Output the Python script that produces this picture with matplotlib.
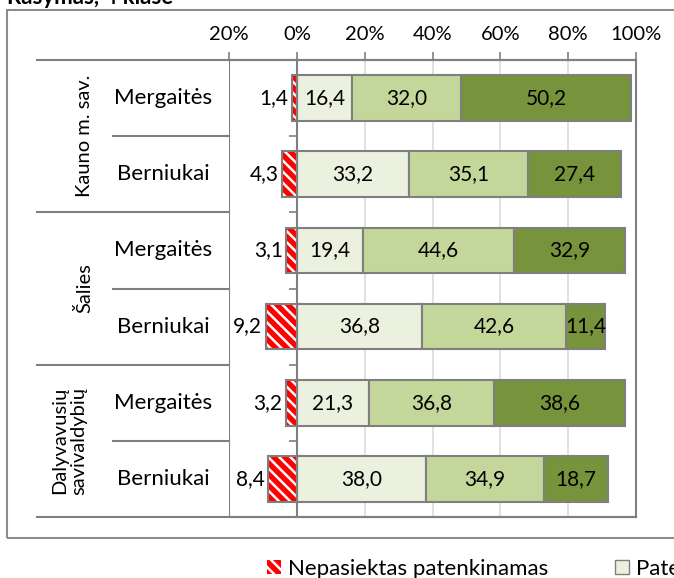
import numpy as np
import matplotlib as mpl
import matplotlib.pyplot as plt
from matplotlib.patches import Rectangle, Patch
from matplotlib.ticker import FuncFormatter

mpl.rcParams['font.family'] = ['Lato', 'DejaVu Sans']
mpl.rcParams['hatch.linewidth'] = 1.8

## data (percent), rows from top to bottom
groups = ['Kauno m. sav.', 'Šalies', 'Dalyvavusių\nsavivaldybių']
rows = ['Mergaitės', 'Berniukai'] * 3
nepasiektas = [1.4, 4.3, 3.1, 9.2, 3.2, 8.4]
patenkinamas = [16.4, 33.2, 19.4, 36.8, 21.3, 38.0]
pagrindinis = [32.0, 35.1, 44.6, 42.6, 36.8, 34.9]
aukstesnysis = [50.2, 27.4, 32.9, 11.4, 38.6, 18.7]
series_names = ['Nepasiektas patenkinamas', 'Patenkinamas', 'Pagrindinis', 'Aukštesnysis']

colors = ['#FF0000', '#EBF1DE', '#C4D79B', '#77933C']
edge = '#7F7F7F'
fs_val = 15
fs_cat = 16
fs_grp = 14.5
fs_tick = 14.5


def fmt(v):
    return ('%.1f' % v).replace('.', ',')


def plot_levels():
    fig = plt.figure(figsize=(6.74, 5.78), dpi=100)
    W, H = 674, 578
    ax = fig.add_axes([229 / W, 1 - 517 / H, 407 / W, 457 / H])

    y = np.arange(len(rows))
    h = 0.6
    neg = -np.array(nepasiektas)

    # hatched red part (hatch in white, then grey outline on top)
    ax.barh(y, neg, height=h, color=colors[0], edgecolor='white', linewidth=0, hatch='\\\\\\', zorder=3)
    ax.barh(y, neg, height=h, fill=False, edgecolor=edge, linewidth=1.5, zorder=4)
    for yi, v in zip(y, neg):
        ax.text(v - 1.0, yi, fmt(-v), ha='right', va='center', fontsize=fs_val, zorder=5)

    left = np.zeros(len(rows))
    for vals, c in zip([patenkinamas, pagrindinis, aukstesnysis], colors[1:]):
        vals = np.array(vals)
        ax.barh(y, vals, left=left, height=h, color=c, edgecolor=edge, linewidth=1.5, zorder=3)
        for yi, l, v in zip(y, left, vals):
            ax.text(l + v / 2, yi, fmt(v), ha='center', va='center', fontsize=fs_val, zorder=5)
        left += vals

    ax.set_xlim(-20, 100)
    ax.set_ylim(len(rows) - 0.5, -0.5)
    ax.set_xticks(np.arange(-20, 101, 20))
    ax.xaxis.set_major_formatter(FuncFormatter(lambda v, p: '%d%%' % abs(v)))
    ax.xaxis.tick_top()
    ax.tick_params(axis='x', direction='out', length=6, width=1.2, color=edge, labelsize=fs_tick, pad=6)
    ax.grid(axis='x', color='#DCDCDC', linewidth=1.2, zorder=0)
    ax.set_axisbelow(True)

    # category axis sits at 0
    ax.spines['left'].set_position(('data', 0))
    ax.set_yticks(np.arange(len(rows) + 1) - 0.5)
    ax.set_yticklabels([])
    ax.tick_params(axis='y', direction='out', length=6, width=1.2, color=edge)
    for s in ['left', 'right', 'top', 'bottom']:
        ax.spines[s].set_color(edge)
        ax.spines[s].set_linewidth(1.5)
    ax.spines['left'].set_zorder(4)
    ax.axvline(-20, color=edge, linewidth=1.5, zorder=4)

    # label table on the left
    tr = ax.get_yaxis_transform()
    x_outer = (37 - 229) / 407
    x_inner = (113 - 229) / 407
    ax.plot([x_outer, 1], [-0.5, -0.5], transform=tr, color=edge, lw=1.5, clip_on=False)
    ax.plot([x_outer, 1], [5.5, 5.5], transform=tr, color=edge, lw=1.5, clip_on=False)
    for b in [1.5, 3.5]:
        ax.plot([x_outer, 0], [b, b], transform=tr, color=edge, lw=1.5, clip_on=False)
    for b in [0.5, 2.5, 4.5]:
        ax.plot([x_inner, 0], [b, b], transform=tr, color=edge, lw=1.5, clip_on=False)
    for yi, r in zip(y, rows):
        ax.text((163 - 229) / 407, yi, r, transform=tr, ha='center', va='center', fontsize=fs_cat)
    for i, g in enumerate(groups):
        gx = (69 - 229) / 407 if '\n' in g else (84 - 229) / 407
        ax.text(gx, 2 * i + 0.5, g, transform=tr, rotation=90, ha='center', va='center',
                fontsize=fs_grp, multialignment='center', linespacing=1.15)

    # chart frame and cut-off title
    fig.add_artist(Rectangle((7 / W, 1 - 538 / H), 1.2, (538 - 10) / H, transform=fig.transFigure,
                             fill=False, edgecolor='#8C8C8C', linewidth=1.5))
    fig.text(7 / W, 1 - 4 / H, 'Rašymas, 4 klasė', fontsize=16, fontweight='bold', va='baseline')

    handles = [Patch(facecolor=colors[0], edgecolor='white', hatch='\\\\\\', linewidth=0)]
    handles += [Patch(facecolor=c, edgecolor=edge, linewidth=1) for c in colors[1:]]
    fig.legend(handles, series_names, loc='center left', bbox_to_anchor=(267 / W, 1 - 569 / H),
               ncol=4, frameon=False, fontsize=16, handlelength=0.62, handleheight=0.62,
               handletextpad=0.32, columnspacing=3.0, borderpad=0, borderaxespad=0)

    fig.savefig('out.png', dpi=100)


if __name__ == '__main__':
    plot_levels()
